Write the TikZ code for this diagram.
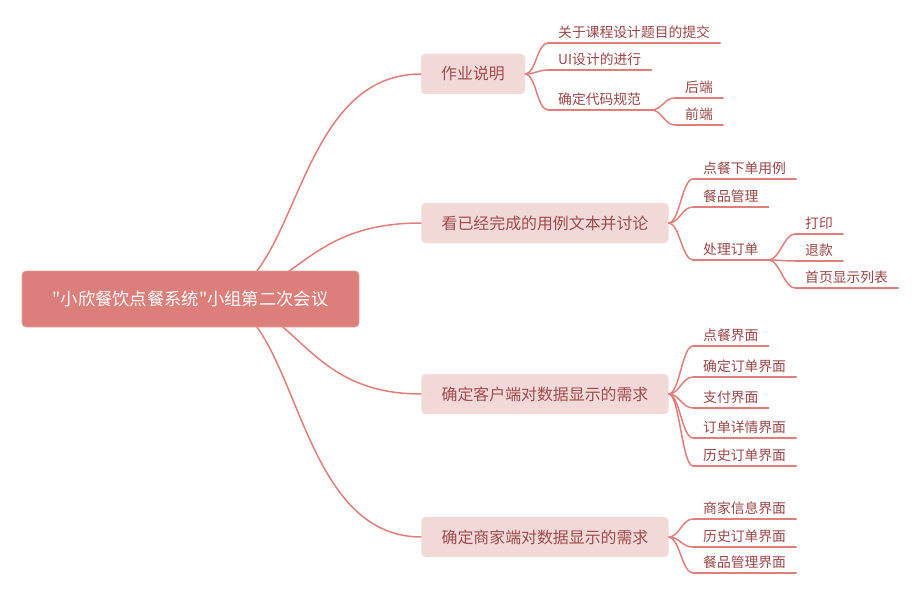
\documentclass[tikz,border=0pt]{standalone}
\usepackage{fontspec}
\setmainfont{Noto Sans CJK SC}[Ligatures=TeXOff]
\usetikzlibrary{calc}
\definecolor{linec}{HTML}{E07F7A}
\definecolor{rootfill}{HTML}{DC7E79}
\definecolor{rootdraw}{HTML}{E8A29E}
\definecolor{mainfill}{HTML}{F3D8D8}
\definecolor{maintext}{HTML}{A04C4C}
\definecolor{leaftext}{HTML}{9A4545}
\tikzset{
  rootbox/.style={fill=rootfill,draw=rootdraw,line width=0.8pt,rounded corners=4pt,text=white,
    font=\fontsize{17.3}{20}\selectfont,minimum height=56pt,minimum width=337pt},
  mainbox/.style={fill=mainfill,draw=mainfill!80!white,rounded corners=4pt,text=maintext,
    font=\fontsize{15.9}{18}\selectfont,minimum height=40pt,inner xsep=20pt},
  leaf/.style={anchor=south west,text=leaftext,font=\fontsize{13.8}{16}\selectfont,
    inner xsep=10pt,inner ysep=0pt,text height=11pt,text depth=5pt},
  conn/.style={draw=linec,line width=1.5pt},
  branch/.style={to path={.. controls ($(\tikztostart)+(11,0)$) and ($(\tikztotarget)-(11,0)$) .. (\tikztotarget)}},
  uline/.style={draw=linec,line width=1.5pt,line cap=round}
}
\begin{document}
\begin{tikzpicture}[x=1pt,y=-1pt]
\useasboundingbox (0,0) rectangle (917,596);
% main nodes
\node[mainbox] (m1) at (473,74) {作业说明};
\node[mainbox] (m2) at (545,223) {看已经完成的用例文本并讨论};
\node[mainbox] (m3) at (545,394) {确定客户端对数据显示的需求};
\node[mainbox] (m4) at (545,537) {确定商家端对数据显示的需求};
% root connectors (drawn first, behind root)
\coordinate (hub) at (210,298);
\draw[conn] (hub) .. controls (300,298) and (290,74) .. (m1.west);
\draw[conn] (hub) .. controls (300,298) and (300,223) .. (m2.west);
\draw[conn] (hub) .. controls (300,298) and (300,394) .. (m3.west);
\draw[conn] (hub) .. controls (300,298) and (290,537) .. (m4.west);
\node[rootbox] (root) at (190.5,299) {"小欣餐饮点餐系统"小组第二次会议};
% group 1
\node[leaf] (l11) at (548,43) {关于课程设计题目的提交};
\node[leaf] (l12) at (548,70) {UI设计的进行};
\node[leaf] (l13) at (548,110) {确定代码规范};
\node[leaf] (l131) at (675,98) {后端};
\node[leaf] (l132) at (675,125) {前端};
% group 2
\node[leaf] (l21) at (693,179) {点餐下单用例};
\node[leaf] (l22) at (693,207) {餐品管理};
\node[leaf] (l23) at (693,260) {处理订单};
\node[leaf] (l231) at (795,234) {打印};
\node[leaf] (l232) at (795,261) {退款};
\node[leaf] (l233) at (795,288) {首页显示列表};
% group 3
\node[leaf] (l31) at (693,346) {点餐界面};
\node[leaf] (l32) at (693,377) {确定订单界面};
\node[leaf] (l33) at (693,408) {支付界面};
\node[leaf] (l34) at (693,438) {订单详情界面};
\node[leaf] (l35) at (693,466) {历史订单界面};
% group 4
\node[leaf] (l41) at (693,519) {商家信息界面};
\node[leaf] (l42) at (693,547) {历史订单界面};
\node[leaf] (l43) at (693,573) {餐品管理界面};
% underlines
\foreach \n in {l11,l12,l13,l131,l132,l21,l22,l23,l231,l232,l233,l31,l32,l33,l34,l35,l41,l42,l43}
  \draw[uline] (\n.south west) -- (\n.south east);
% branches
\foreach \n in {l11,l12,l13} \draw[conn,branch] (m1.east) to (\n.south west);
\foreach \n in {l131,l132} \draw[conn,branch] (l13.south east) to (\n.south west);
\foreach \n in {l21,l22,l23} \draw[conn,branch] (m2.east) to (\n.south west);
\foreach \n in {l231,l232,l233} \draw[conn,branch] (l23.south east) to (\n.south west);
\foreach \n in {l31,l32,l33,l34,l35} \draw[conn,branch] (m3.east) to (\n.south west);
\foreach \n in {l41,l42,l43} \draw[conn,branch] (m4.east) to (\n.south west);
\end{tikzpicture}
\end{document}
